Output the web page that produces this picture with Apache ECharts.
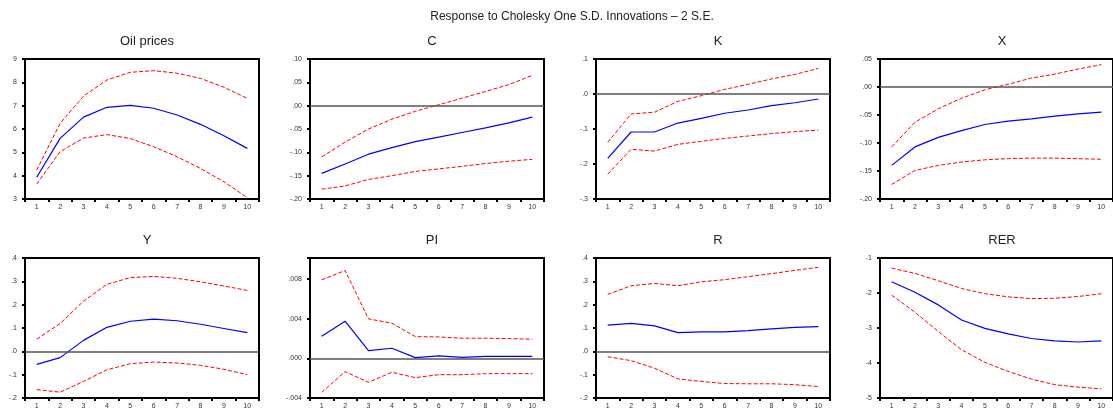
<!DOCTYPE html>
<html><head><meta charset="utf-8">
<script src="https://cdn.jsdelivr.net/npm/echarts@6/dist/echarts.min.js"></script>
<style>html,body{margin:0;padding:0;background:#fff}#c{width:1113px;height:410px}</style>
</head><body><div id="c"></div>
<script>
const periods = ['1','2','3','4','5','6','7','8','9','10'];
const mainTitle = 'Response to Cholesky One S.D. Innovations \u2013 2 S.E.';
const panelNames = ['Oil prices','C','K','X','Y','PI','R','RER'];

const oilResp  = [3.93,5.60,6.51,6.93,7.01,6.89,6.60,6.20,5.71,5.17];
const oilUpper = [4.24,6.24,7.41,8.10,8.43,8.50,8.39,8.17,7.79,7.31];
const oilLower = [3.64,5.03,5.61,5.76,5.59,5.24,4.81,4.31,3.74,3.06];

const cResp  = [-0.145,-0.125,-0.104,-0.090,-0.077,-0.0675,-0.0575,-0.0475,-0.037,-0.0245];
const cUpper = [-0.110,-0.078,-0.050,-0.029,-0.012,0.002,0.016,0.0305,0.045,0.065];
const cLower = [-0.179,-0.172,-0.158,-0.150,-0.141,-0.1355,-0.130,-0.124,-0.119,-0.115];

const kResp  = [-0.184,-0.1086,-0.1086,-0.083,-0.0695,-0.055,-0.0457,-0.033,-0.025,-0.0143];
const kUpper = [-0.138,-0.057,-0.052,-0.021,-0.0048,0.0133,0.0276,0.043,0.056,0.073];
const kLower = [-0.2295,-0.158,-0.163,-0.144,-0.135,-0.127,-0.120,-0.113,-0.1076,-0.103];

const xResp  = [-0.140,-0.107,-0.090,-0.078,-0.067,-0.061,-0.057,-0.052,-0.048,-0.045];
const xUpper = [-0.107,-0.063,-0.039,-0.020,-0.005,0.005,0.016,0.023,0.032,0.040];
const xLower = [-0.174,-0.149,-0.140,-0.134,-0.130,-0.128,-0.127,-0.127,-0.128,-0.129];

const yResp  = [-0.056,-0.027,0.047,0.103,0.129,0.138,0.131,0.116,0.098,0.080];
const yUpper = [0.052,0.119,0.215,0.287,0.316,0.321,0.313,0.298,0.280,0.261];
const yLower = [-0.164,-0.175,-0.129,-0.079,-0.053,-0.046,-0.050,-0.060,-0.077,-0.100];

const piResp  = [0.00222,0.00373,0.00077,0.00101,0.00007,0.00024,0.0001,0.0002,0.0002,0.0002];
const piUpper = [0.0079,0.00884,0.00397,0.00353,0.00218,0.00215,0.00202,0.00202,0.00198,0.00192];
const piLower = [-0.00343,-0.00134,-0.00242,-0.00141,-0.00195,-0.00165,-0.00165,-0.00155,-0.00155,-0.00155];

const rResp  = [0.112,0.120,0.109,0.080,0.083,0.083,0.089,0.096,0.103,0.106];
const rUpper = [0.244,0.281,0.291,0.281,0.298,0.307,0.320,0.333,0.347,0.360];
const rLower = [-0.023,-0.040,-0.072,-0.118,-0.129,-0.138,-0.139,-0.139,-0.143,-0.151];

const rerResp  = [-1.68,-1.98,-2.34,-2.77,-3.01,-3.17,-3.30,-3.37,-3.40,-3.37];
const rerUpper = [-1.29,-1.44,-1.65,-1.87,-2.02,-2.11,-2.16,-2.15,-2.10,-2.02];
const rerLower = [-2.06,-2.55,-3.10,-3.62,-3.98,-4.24,-4.46,-4.62,-4.69,-4.74];

// axis settings: [min, max, interval, decimals]
const axisMin = [3,-0.2,-0.3,-0.2,-0.2,-0.004,-0.2,-5];
const axisMax = [9,0.1,0.1,0.05,0.4,0.0101,0.4,-1];
const axisStep = [1,0.05,0.1,0.05,0.1,0.004,0.1,1];
const axisDec = [0,2,1,2,1,3,1,0];
const zeroLine = [false,true,true,true,true,true,true,false];

const resp = [oilResp,cResp,kResp,xResp,yResp,piResp,rResp,rerResp];
const upper = [oilUpper,cUpper,kUpper,xUpper,yUpper,piUpper,rUpper,rerUpper];
const lower = [oilLower,cLower,kLower,xLower,yLower,piLower,rLower,rerLower];

const lefts = [25,310,596,880];
const tops = [59,258];
const W = 234, H = 140;
const FONT = 'Liberation Sans';

function fmt(i){
  return function(v){
    const k = (v - axisMin[i]) / axisStep[i];
    if (Math.abs(k - Math.round(k)) > 1e-6) return '';
    if (Math.abs(v) < 1e-12) v = 0;
    let s = v.toFixed(axisDec[i]);
    if (axisDec[i] > 0) s = s.replace(/^(-?)0\./,'$1.');
    return s;
  };
}

const grid=[], xAxis=[], yAxis=[], series=[], title=[];
title.push({text: mainTitle, left: 567, top: 6, textAlign: 'center',
  textStyle:{fontFamily:FONT,fontSize:12,fontWeight:'normal',color:'#222'}});
for (let i=0;i<8;i++){
  const r = Math.floor(i/4), c = i%4;
  grid.push({left: lefts[c], top: tops[r], width: W, height: H, show: true,
    borderColor:'#000', borderWidth: 2, backgroundColor:'transparent'});
  title.push({text: panelNames[i], left: lefts[c]+W/2, top: tops[r]-29, textAlign:'center',
    textStyle:{fontFamily:FONT,fontSize:13,fontWeight:'normal',color:'#222'}});
  xAxis.push({type:'category', gridIndex:i, data: periods, boundaryGap:true,
    axisLine:{show:true,onZero:false,lineStyle:{color:'#000',width:2}},
    axisTick:{show:true,length:3,lineStyle:{color:'#000',width:2}},
    axisLabel:{fontFamily:FONT,fontSize:7,color:'#333',margin:5},
    splitLine:{show:false}});
  yAxis.push({type:'value', gridIndex:i, min:axisMin[i], max:axisMax[i], interval:axisStep[i],
    axisLine:{show:true,onZero:false,lineStyle:{color:'#000',width:2}},
    axisTick:{show:true,length:3,lineStyle:{color:'#000',width:2}},
    axisLabel:{fontFamily:FONT,fontSize:7,color:'#333',margin:8,formatter:fmt(i)},
    splitLine:{show:false}});
  const blue = {type:'line', xAxisIndex:i, yAxisIndex:i, data: resp[i], symbol:'none',
    lineStyle:{color:'#0000ff',width:1.2}, z:3, animation:false};
  if (zeroLine[i]) {
    blue.markLine = {silent:true, symbol:'none', label:{show:false},
      lineStyle:{color:'#555',width:1.5,type:'solid'}, data:[{yAxis:0}], animation:false};
  }
  series.push(blue);
  [upper[i], lower[i]].forEach(d => series.push({type:'line', xAxisIndex:i, yAxisIndex:i, data:d,
    symbol:'none', lineStyle:{color:'#ff0000',width:1,type:[4,2]}, z:2, animation:false}));
}
const chart = echarts.init(document.getElementById('c'), null, {renderer:'canvas'});
chart.setOption({animation:false, backgroundColor:'#fff', title, grid, xAxis, yAxis, series});
</script></body></html>
